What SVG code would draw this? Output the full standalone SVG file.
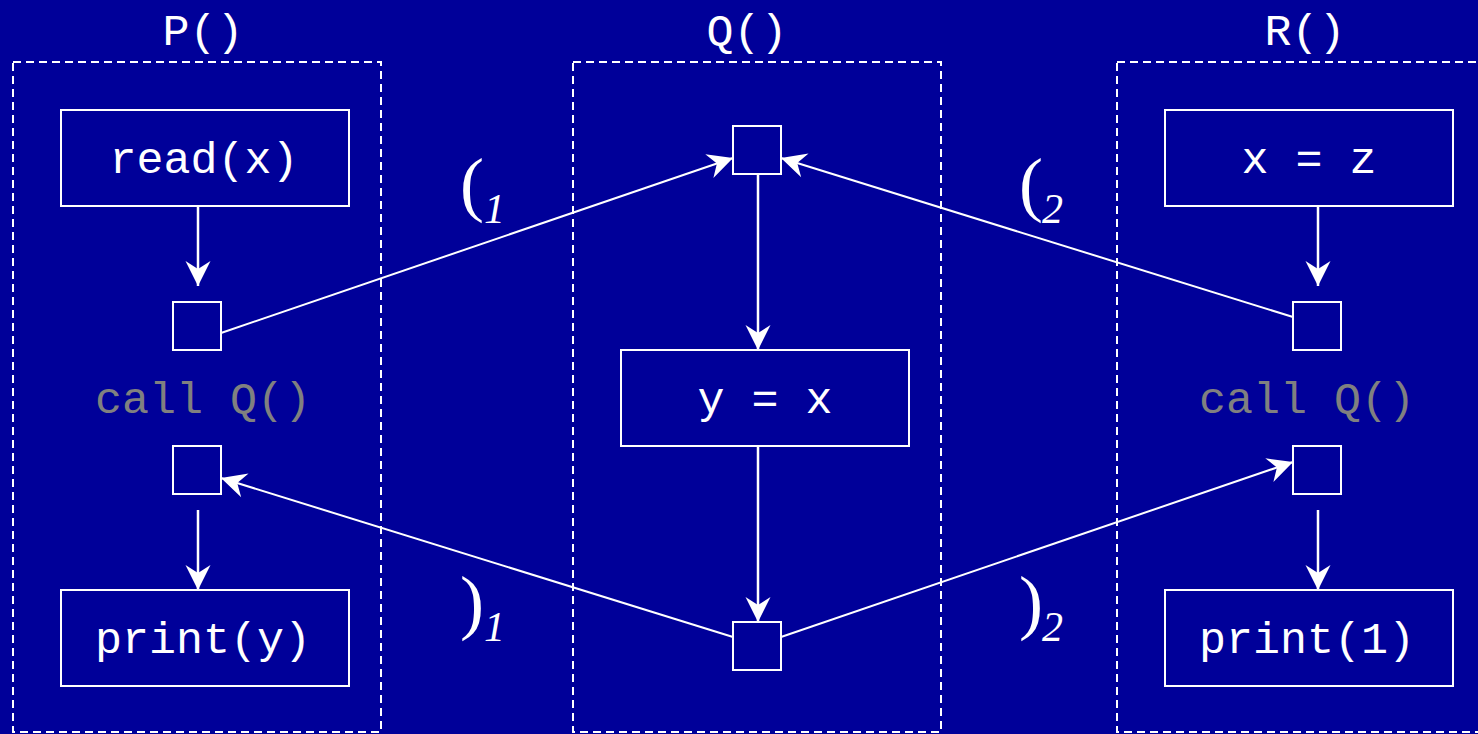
<svg xmlns="http://www.w3.org/2000/svg" width="1478" height="734" viewBox="0 0 1478 734">
<style>
.bg{fill:#000099}
.frame{fill:none;stroke:#fff;stroke-width:2;stroke-dasharray:8 5}
.box{fill:none;stroke:#fff;stroke-width:2}
.code{font-family:"Liberation Mono",monospace;font-size:45px;fill:#fff;text-anchor:middle}
.gray{fill:#808080}
.edge{fill:none;stroke:#fff;stroke-width:2;marker-end:url(#ah)}
.vedge{stroke-width:2.5}
.par{font-family:"Liberation Serif",serif;font-size:72px;fill:#fff}
.sub{font-family:"Liberation Serif",serif;font-size:42px;font-style:italic;fill:#fff}
</style>
<defs>
<marker id="ah" markerUnits="userSpaceOnUse" viewBox="-26 -14 28 28" refX="0" refY="0" markerWidth="28" markerHeight="28" orient="auto">
<path d="M0,0 L-25,-12.5 L-17,0 L-25,12.5 Z" fill="#fff"/>
</marker>
</defs>
<rect class="bg" x="0" y="0" width="1478" height="734"/>
<g id="procP">
<rect class="frame" x="13" y="62" width="368" height="670"/>
<text class="code" x="203" y="45">P()</text>
</g>
<g id="procQ">
<rect class="frame" x="573" y="62" width="368" height="670"/>
<text class="code" x="747" y="45">Q()</text>
</g>
<g id="procR">
<rect class="frame" x="1117" y="62" width="368" height="670"/>
<text class="code" x="1305" y="45">R()</text>
</g>
<g id="readx"><rect class="box" x="61" y="110" width="288" height="96"/><text class="code" x="204" y="173">read(x)</text></g>
<g id="p_call"><rect class="box" x="173" y="302" width="48" height="48"/></g>
<g id="p_callQ_label"><text class="code gray" x="203" y="413">call Q()</text></g>
<g id="p_ret"><rect class="box" x="173" y="446" width="48" height="48"/></g>
<g id="printy"><rect class="box" x="61" y="590" width="288" height="96"/><text class="code" x="203" y="653">print(y)</text></g>
<g id="q_entry"><rect class="box" x="733" y="126" width="48" height="48"/></g>
<g id="yx"><rect class="box" x="621" y="350" width="288" height="96"/><text class="code" x="765" y="413">y = x</text></g>
<g id="q_exit"><rect class="box" x="733" y="622" width="48" height="48"/></g>
<g id="xz"><rect class="box" x="1165" y="110" width="288" height="96"/><text class="code" x="1309" y="173">x = z</text></g>
<g id="r_call"><rect class="box" x="1293" y="302" width="48" height="48"/></g>
<g id="r_callQ_label"><text class="code gray" x="1307" y="413">call Q()</text></g>
<g id="r_ret"><rect class="box" x="1293" y="446" width="48" height="48"/></g>
<g id="print1"><rect class="box" x="1165" y="590" width="288" height="96"/><text class="code" x="1307" y="653">print(1)</text></g>
<g id="connectors">
<line class="edge vedge" x1="198" y1="206" x2="198" y2="286"/>
<line class="edge vedge" x1="198" y1="510" x2="198" y2="590"/>
<line class="edge vedge" x1="758" y1="174" x2="758" y2="350"/>
<line class="edge vedge" x1="758" y1="446" x2="758" y2="622"/>
<line class="edge vedge" x1="1318" y1="206" x2="1318" y2="286"/>
<line class="edge vedge" x1="1318" y1="510" x2="1318" y2="590"/>
<line class="edge" x1="221" y1="333" x2="733" y2="158"/>
<line class="edge" x1="1293" y1="317" x2="781" y2="158"/>
<line class="edge" x1="733" y1="637" x2="221" y2="478"/>
<line class="edge" x1="781" y1="637" x2="1293" y2="462"/>
</g>
<g id="labels">
<text class="par" x="460" y="208">(</text><text class="sub" x="484" y="223">1</text>
<text class="par" x="1019" y="208">(</text><text class="sub" x="1042" y="223">2</text>
<text class="par" x="460" y="626">)</text><text class="sub" x="484" y="641">1</text>
<text class="par" x="1019" y="626">)</text><text class="sub" x="1042" y="641">2</text>
</g>
</svg>
